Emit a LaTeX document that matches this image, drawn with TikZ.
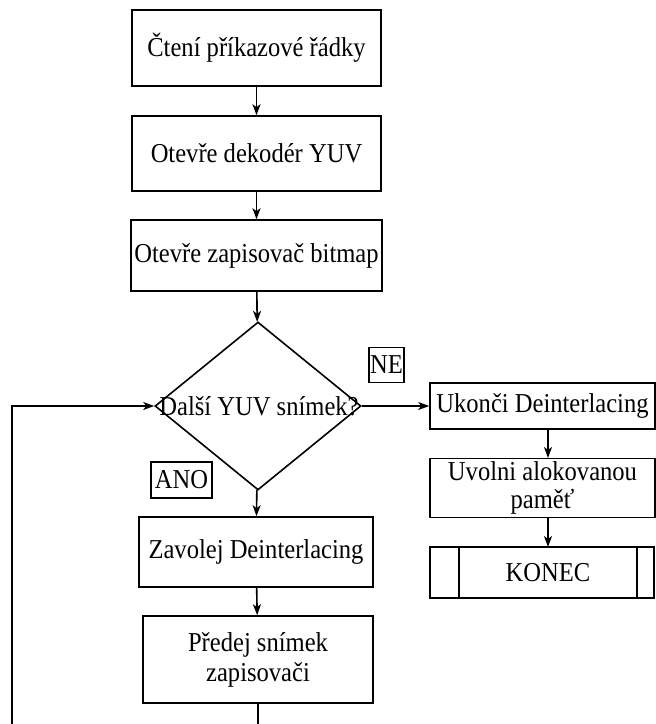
\documentclass[tikz,border=0pt]{standalone}
\usepackage{fontspec}
\setmainfont[FakeStretch=0.9]{Liberation Serif}
\usetikzlibrary{arrows.meta,shapes.geometric}
\begin{document}
\begin{tikzpicture}[x=1pt,y=-1pt,
  every node/.style={font=\fontsize{27.3}{30}\selectfont, inner sep=0pt, align=center},
  box/.style={draw, line width=1.6pt, rectangle},
  tag/.style={draw, line width=1.3pt, rectangle},
  conn/.style={line width=1.6pt, -{Stealth[length=11pt,width=8pt,inset=3pt]}},
  plain/.style={line width=1.6pt}]
\useasboundingbox (0,0) rectangle (656,724);
\clip (0,0) rectangle (656,724);

% main column
\node[box, minimum width=249pt, minimum height=76pt] (read) at (256.5,48) {Čtení příkazové řádky};
\node[box, minimum width=249pt, minimum height=75pt] (dec) at (256.5,153.5) {Otevře dekodér YUV};
\node[box, minimum width=251pt, minimum height=71pt] (wr) at (256.5,255.5) {Otevře zapisovač bitmap};
\node[draw, diamond, line width=1.6pt, minimum width=206pt, minimum height=168pt, inner sep=0pt] (dia) at (258,406) {};
\node (dlab) at (259,406) {Další YUV snímek?};
\node[box, minimum width=234pt, minimum height=70pt] (call) at (256,552) {Zavolej Deinterlacing};
\node[box, minimum width=230pt, minimum height=87pt] (pass) at (258,659.5) {Předej snímek\\zapisovači};

% right column
\node[box, minimum width=225pt, minimum height=46pt] (stop) at (542.5,406) {Ukonči Deinterlacing};
\node[box, minimum width=225pt, minimum height=59pt, font=\fontsize{27.3}{28}\selectfont] (free) at (542.5,488) {Uvolni alokovanou\\paměť};
\node[box, minimum width=224pt, minimum height=51pt] (fin) at (542,572.5) {};
\node (finlab) at (548,572.5) {KONEC};
\draw[plain] (459,547) -- (459,598) (637,547) -- (637,598);

% branch labels
\node[tag, minimum width=35pt, minimum height=35pt] (ne) at (386.5,365) {NE};
\node[tag, minimum width=61pt, minimum height=36pt] (ano) at (181.5,480) {ANO};

% connectors
\draw[conn] (read) -- (dec);
\draw[conn] (dec) -- (wr);
\draw[conn] (wr) -- (dia);
\draw[conn] (dia) -- (call);
\draw[conn] (call) -- (pass);
\draw[conn] (dia.east) -- (stop.west);
\draw[conn] (548,429) -- (548,458);
\draw[conn] (548,517) -- (548,547);

% loop back to the decision
\coordinate (lp) at (12,745);
\draw[conn] (pass.south) |- (lp) |- (dia.west);
\end{tikzpicture}
\end{document}
